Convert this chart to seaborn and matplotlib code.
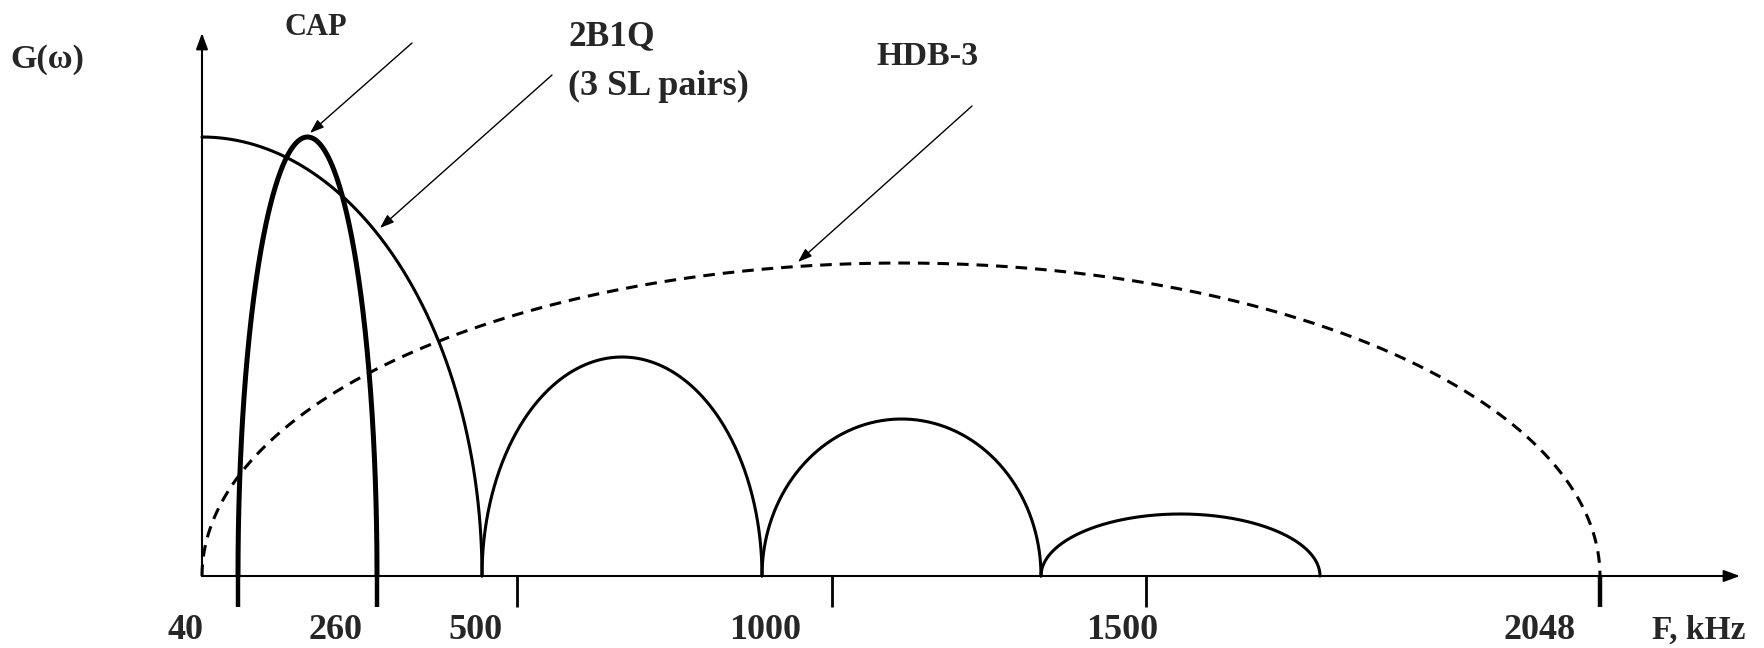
import matplotlib
matplotlib.use("Agg")

import matplotlib.pyplot as plt
import numpy as np
import seaborn as sns

output_filename = "out.png"

# schematic drawing units: x from the G axis, y above the F axis
twob1q_nulls = [280, 560, 839, 1118]      # first null, then lobe edges
twob1q_peaks = [439, 219, 157, 62]        # main lobe + 3 side lobes
cap_band = [36, 175]
cap_peak = 439
hdb3_band = [0, 1398]
hdb3_peak = 313

tick_labels = ["40", "260", "500", "1000", "1500", "2048"]
tick_x = [36, 175, 315, 630, 944, 1398]
tick_label_x = [-16, 133, 273, 563, 920, 1338]


def arch(center, half, peak, t0=np.pi, t1=0.0, n=300):
	# elliptic arch, sampled by angle so the steep ends stay smooth
	t = np.linspace(t0, t1, n)
	return center + half * np.cos(t), peak * np.sin(t)


sns.set_style("white")
plt.rcParams['font.family'] = ['Liberation Serif', 'DejaVu Serif']
plt.rcParams['font.weight'] = 'bold'

fig = plt.figure(figsize=(17.64, 6.48), dpi=100)
ax = fig.add_axes([0, 0, 1, 1])
ax.set_xlim(-202, 1562)
ax.set_ylim(-72, 576)
ax.axis("off")

# 2B1Q: main lobe centred on zero, then side lobes between nulls
x, y = arch(0, twob1q_nulls[0], twob1q_peaks[0], t0=np.pi / 2)
sns.lineplot(x=x, y=y, sort=False, estimator=None, color="black", lw=2.2, ax=ax)
for i in range(1, len(twob1q_peaks)):
	l, r = twob1q_nulls[i - 1], twob1q_nulls[i]
	x, y = arch((l + r) / 2, (r - l) / 2, twob1q_peaks[i])
	sns.lineplot(x=x, y=y, sort=False, estimator=None, color="black", lw=2.2, ax=ax)

# CAP
x, y = arch((cap_band[0] + cap_band[1]) / 2, (cap_band[1] - cap_band[0]) / 2, cap_peak)
sns.lineplot(x=x, y=y, sort=False, estimator=None, color="black", lw=3.6, ax=ax)

# HDB-3
x, y = arch((hdb3_band[0] + hdb3_band[1]) / 2, (hdb3_band[1] - hdb3_band[0]) / 2, hdb3_peak)
sns.lineplot(x=x, y=y, sort=False, estimator=None, color="black", lw=2.2,
	linestyle=(0, (3.8, 2.6)), ax=ax)

# axes with arrow heads
ax.annotate("", xy=(1538, 0), xytext=(0, 0),
	arrowprops=dict(arrowstyle="-|>,head_length=0.6,head_width=0.22", mutation_scale=16,
		color="black", lw=1.5, shrinkA=0, shrinkB=0))
ax.annotate("", xy=(0, 543), xytext=(0, 0),
	arrowprops=dict(arrowstyle="-|>,head_length=0.6,head_width=0.22", mutation_scale=16,
		color="black", lw=1.5, shrinkA=0, shrinkB=0))

# ticks: CAP edges and 2048 are drawn heavier
heavy = [True, True, False, False, False, True]
for tx, hv in zip(tick_x, heavy):
	ax.plot([tx, tx], [0, -31], color="black", lw=3.2 if hv else 2.0, solid_capstyle="butt")
for lab, lx in zip(tick_labels, tick_label_x):
	ax.text(lx, -63, lab, ha="center", va="baseline", fontsize=26, fontweight="bold")
ax.text(1497, -63, "F, kHz", ha="center", va="baseline", fontsize=24, fontweight="bold")

# labels and pointers
ax.text(-192, 508, "G(ω)", ha="left", va="baseline", fontsize=24.5, fontweight="bold")
ax.text(114, 541, "CAP", ha="center", va="baseline", fontsize=22, fontweight="bold")
ax.text(366, 531, "2B1Q", ha="left", va="baseline", fontsize=25.5, fontweight="bold")
ax.text(366, 481, "(3 SL pairs)", ha="left", va="baseline", fontsize=26, fontweight="bold")
ax.text(674, 511, "HDB-3", ha="left", va="baseline", fontsize=24.5, fontweight="bold")

ptr = dict(arrowstyle="-|>,head_length=0.7,head_width=0.25", mutation_scale=12,
	color="black", lw=1.0, shrinkA=0, shrinkB=0)
ax.annotate("", xy=(108, 443), xytext=(210, 533), arrowprops=ptr)
ax.annotate("", xy=(178, 348), xytext=(350, 501), arrowprops=ptr)
ax.annotate("", xy=(596, 314), xytext=(770, 470), arrowprops=ptr)

plt.savefig(output_filename, dpi=100)
